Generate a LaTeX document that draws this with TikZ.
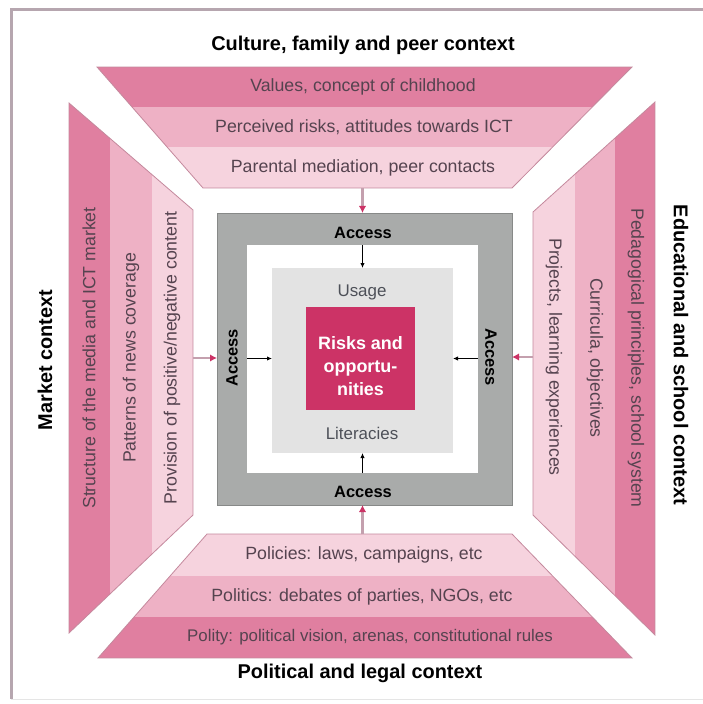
\documentclass[tikz,border=0pt]{standalone}
\usepackage{fontspec}
\setmainfont{Liberation Sans}
\usetikzlibrary{arrows.meta}

\definecolor{bandA}{HTML}{E07FA0}
\definecolor{bandB}{HTML}{EEB1C5}
\definecolor{bandC}{HTML}{F6D3DE}
\definecolor{edgecol}{HTML}{C4899D}
\definecolor{framecol}{HTML}{B6A6AF}
\definecolor{accgray}{HTML}{A9ABAA}
\definecolor{innergray}{HTML}{E3E3E3}
\definecolor{corecol}{HTML}{CC3366}
\definecolor{bandtext}{HTML}{55434F}
\definecolor{usetext}{HTML}{4D5058}
\definecolor{stemcol}{HTML}{C4A0AE}

\tikzset{
  bandlbl/.style={inner sep=0pt, text=bandtext, font=\fontsize{17.8}{20}\selectfont},
  ctxlbl/.style={inner sep=0pt, text=black, font=\fontsize{20}{22}\selectfont\bfseries},
  acclbl/.style={inner sep=0pt, text=black, font=\fontsize{16.5}{19}\selectfont\bfseries},
  uselbl/.style={inner sep=0pt, text=usetext, font=\fontsize{17}{20}\selectfont},
  trapedge/.style={draw=edgecol, line width=0.8bp, line join=miter},
  boxnode/.style={inner sep=0pt, outer sep=0pt},
  link/.style={draw=stemcol, line width=2.2bp, -{Latex[length=7bp,width=7.5bp,color=corecol]}},
  blkarrow/.style={draw=black, line width=1bp, -{Latex[length=5bp,width=4.5bp]}}
}

\begin{document}
\begin{tikzpicture}[x=1bp,y=-1bp]
\useasboundingbox (0,0) rectangle (703,704);

% frame
\draw[framecol, line width=3bp] (11,699) -- (11,10) -- (703,10);
\draw[black!10, line width=1bp] (11,699) -- (703,699);

% top trapezoid: culture, family and peers
\begin{scope}
  \clip (97,67) -- (632,67) -- (512,188) -- (203,188) -- cycle;
  \fill[bandA] (0,67) rectangle (703,107);
  \fill[bandB] (0,107) rectangle (703,147);
  \fill[bandC] (0,147) rectangle (703,188);
\end{scope}
\path[trapedge] (97,67) -- (632,67) -- (512,188) -- (203,188) -- cycle;

% left trapezoid: market
\begin{scope}
  \clip (69,103) -- (193,210) -- (193,515) -- (69,633) -- cycle;
  \fill[bandA] (69,0) rectangle (110,704);
  \fill[bandB] (110,0) rectangle (152,704);
  \fill[bandC] (152,0) rectangle (193,704);
\end{scope}
\path[trapedge] (69,103) -- (193,210) -- (193,515) -- (69,633) -- cycle;

% right trapezoid: education and school
\begin{scope}
  \clip (655,102) -- (533,212) -- (533,515) -- (655,635) -- cycle;
  \fill[bandC] (533,0) rectangle (575,704);
  \fill[bandB] (575,0) rectangle (615,704);
  \fill[bandA] (615,0) rectangle (655,704);
\end{scope}
\path[trapedge] (655,102) -- (533,212) -- (533,515) -- (655,635) -- cycle;

% bottom trapezoid: politics and law
\begin{scope}
  \clip (207,534) -- (512,534) -- (632,658) -- (98,658) -- cycle;
  \fill[bandC] (0,534) rectangle (703,576);
  \fill[bandB] (0,576) rectangle (703,617);
  \fill[bandA] (0,617) rectangle (703,658);
\end{scope}
\path[trapedge] (207,534) -- (512,534) -- (632,658) -- (98,658) -- cycle;

% context titles
\node[ctxlbl] (ttop) at (363,45) {Culture, family and peer context};
\node[ctxlbl] (tbot) at (360,673) {Political and legal context};
\node[ctxlbl, rotate=90] (tleft) at (45,360) {Market context};
\node[ctxlbl, rotate=-90] (tright) at (681,355) {Educational and school context};

% band labels
\node[bandlbl] (t1) at (363,87) {Values, concept of childhood};
\node[bandlbl] (t2) at (364,127) {Perceived risks, attitudes towards ICT};
\node[bandlbl] (t3) at (363,168) {Parental mediation, peer contacts};

\node[bandlbl] (b1) at (364,555) {Policies: laws, campaigns, etc};
\node[bandlbl] (b2) at (362,597) {Politics: debates of parties, NGOs, etc};
\node[bandlbl, font=\fontsize{16.9}{20}\selectfont] (b3) at (370,637) {Polity: political vision, arenas, constitutional rules};

\node[bandlbl, rotate=90] (l1) at (89,358) {Structure of the media and ICT market};
\node[bandlbl, rotate=90] (l2) at (131,358) {Patterns of news coverage};
\node[bandlbl, rotate=90] (l3) at (172,358) {Provision of positive/negative content};

\node[bandlbl, rotate=-90] (r1) at (554,357) {Projects, learning experiences};
\node[bandlbl, rotate=-90] (r2) at (595,358) {Curricula, objectives};
\node[bandlbl, rotate=-90] (r3) at (636,358) {Pedagogical principles, school system};

% central squares
\node[boxnode, fill=accgray, draw=accgray!80!black, line width=0.6bp,
      minimum width=295bp, minimum height=292bp] (acc) at (364.5,359) {};
\node[boxnode, fill=white, minimum width=231bp, minimum height=228bp] (wht) at (362.5,359) {};
\node[boxnode, fill=innergray, minimum width=181bp, minimum height=185bp] (lg) at (362.5,360.5) {};
\node[boxnode, fill=corecol, minimum width=109bp, minimum height=103bp] (core) at (360.5,358.5) {};
\node[inner sep=0pt, text=white, align=center,
      font=\fontsize{18}{23.5}\selectfont\bfseries] (risk) at (360.5,366) {Risks and\\opportu-\\nities};

\node[uselbl] (usage) at (362,292) {Usage};
\node[uselbl] (lit) at (362,433) {Literacies};

% access labels
\node[acclbl] (atop) at (363,233) {Access};
\node[acclbl] (abot) at (363,492) {Access};
\node[acclbl, rotate=90] (aleft) at (232,358) {Access};
\node[acclbl, rotate=-90] (aright) at (491,357) {Access};

% access flows inward
\draw[blkarrow] (wht.north) -- (lg.north);
\draw[blkarrow] (wht.south) -- (lg.south);
\draw[blkarrow] (wht.west |- core.center) -- (lg.west |- core.center);
\draw[blkarrow] (wht.east |- core.center) -- (lg.east |- core.center);

% contexts feeding access
\coordinate (ctop) at (362.5,188);
\coordinate (cbot) at (362.5,534);
\coordinate (cleft) at (193,358);
\coordinate (cright) at (533,357);
\draw[link] (ctop) -- (ctop |- acc.north);
\draw[link] (cbot) -- (cbot |- acc.south);
\draw[link] (cleft) -- (cleft -| acc.west);
\draw[link] (cright) -- (cright -| acc.east);

\end{tikzpicture}
\end{document}
